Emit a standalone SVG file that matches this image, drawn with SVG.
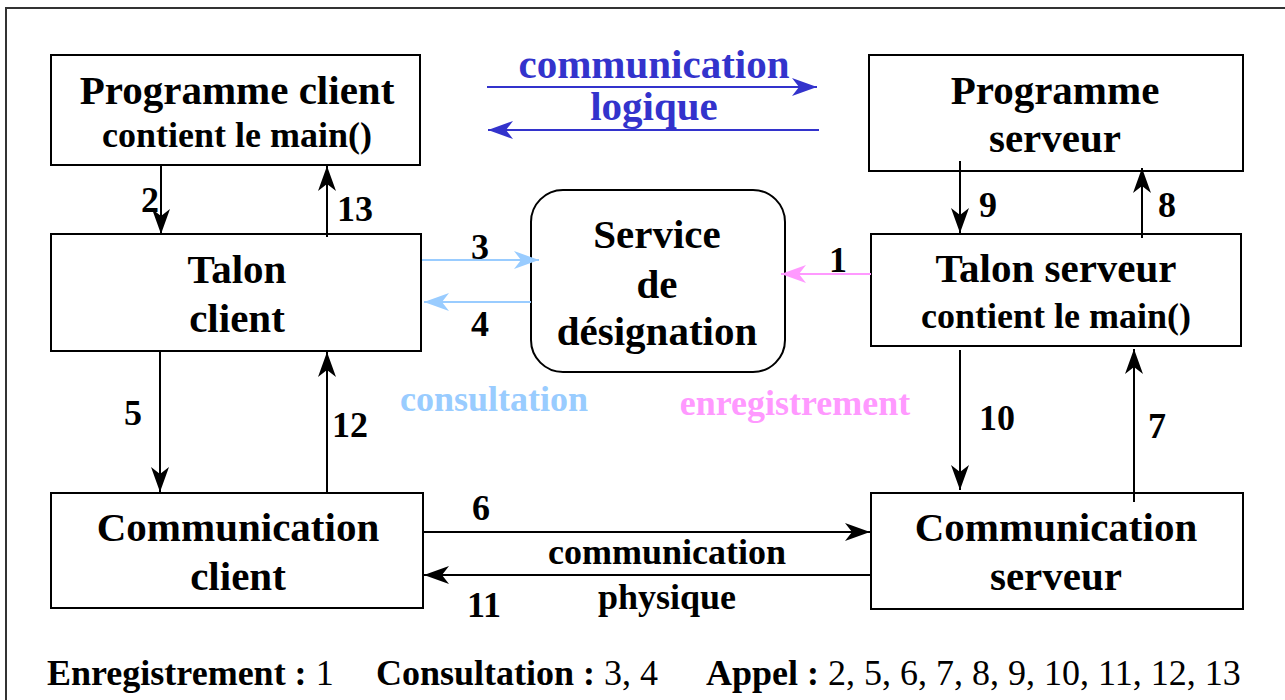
<svg xmlns="http://www.w3.org/2000/svg" width="1285" height="700" viewBox="0 0 1285 700">
  <style>
    .box { fill: #ffffff; stroke: #000000; stroke-width: 2; }
    .t { font-family: "Liberation Serif", "Times New Roman", serif; font-weight: bold; text-anchor: middle; fill: #000000; }
    .big { font-size: 41px; }
    .mid { font-size: 36px; }
    .num { font-size: 36px; }
    .blk { stroke: #000000; stroke-width: 2; fill: none; }
    .blue { stroke: #3333cc; stroke-width: 2; fill: none; }
    .lblue { stroke: #99ccff; stroke-width: 2; fill: none; }
    .pink { stroke: #ff99ff; stroke-width: 2; fill: none; }
    .legend { font-family: "Liberation Serif", "Times New Roman", serif; font-size: 36px; fill: #000000; }
  </style>
  <defs>
    <marker id="ah-black" markerUnits="userSpaceOnUse" markerWidth="30" markerHeight="24" viewBox="-26 -12 30 24" refX="0" refY="0" orient="auto">
      <path d="M0,0 L-25,-9 L-18,0 L-25,9 Z" fill="#000000"/>
    </marker>
    <marker id="ah-blue" markerUnits="userSpaceOnUse" markerWidth="30" markerHeight="24" viewBox="-26 -12 30 24" refX="0" refY="0" orient="auto">
      <path d="M0,0 L-25,-9 L-18,0 L-25,9 Z" fill="#3333cc"/>
    </marker>
    <marker id="ah-lblue" markerUnits="userSpaceOnUse" markerWidth="30" markerHeight="24" viewBox="-26 -12 30 24" refX="0" refY="0" orient="auto">
      <path d="M0,0 L-25,-9 L-18,0 L-25,9 Z" fill="#99ccff"/>
    </marker>
    <marker id="ah-pink" markerUnits="userSpaceOnUse" markerWidth="30" markerHeight="24" viewBox="-26 -12 30 24" refX="0" refY="0" orient="auto">
      <path d="M0,0 L-25,-9 L-18,0 L-25,9 Z" fill="#ff99ff"/>
    </marker>
  </defs>

  <rect x="0" y="0" width="1285" height="700" fill="#ffffff"/>
  <!-- frame -->
  <rect x="6" y="8" width="1300" height="720" fill="none" stroke="#333333" stroke-width="2"/>

  <g id="programme-client">
    <rect class="box" x="51" y="55" width="369" height="110"/>
    <text class="t big" x="237" y="104">Programme client</text>
    <text class="t mid" x="237" y="147">contient le main()</text>
  </g>

  <g id="programme-serveur">
    <rect class="box" x="869" y="55" width="374" height="116"/>
    <text class="t big" x="1055" y="104">Programme</text>
    <text class="t big" x="1055" y="152">serveur</text>
  </g>

  <g id="talon-client">
    <rect class="box" x="51" y="234" width="370" height="117"/>
    <text class="t big" x="237" y="283">Talon</text>
    <text class="t big" x="237" y="332">client</text>
  </g>

  <g id="talon-serveur">
    <rect class="box" x="871" y="234" width="370" height="112"/>
    <text class="t big" x="1056" y="282">Talon serveur</text>
    <text class="t mid" x="1056" y="328">contient le main()</text>
  </g>

  <g id="service-designation">
    <rect class="box" x="531" y="190" width="254" height="182" rx="32" ry="32"/>
    <text class="t big" x="657" y="248">Service</text>
    <text class="t big" x="657" y="298">de</text>
    <text class="t big" x="657" y="345">désignation</text>
  </g>

  <g id="communication-client">
    <rect class="box" x="51" y="493" width="372" height="115"/>
    <text class="t big" x="238" y="541">Communication</text>
    <text class="t big" x="238" y="590">client</text>
  </g>

  <g id="communication-serveur">
    <rect class="box" x="871" y="493" width="372" height="116"/>
    <text class="t big" x="1056" y="541">Communication</text>
    <text class="t big" x="1056" y="590">serveur</text>
  </g>

  <g id="connectors">
    <!-- logical communication -->
    <line class="blue" x1="487" y1="87" x2="817" y2="87" marker-end="url(#ah-blue)"/>
    <line class="blue" x1="819" y1="130" x2="488" y2="130" marker-end="url(#ah-blue)"/>
    <!-- client side -->
    <line class="blk" x1="161" y1="165" x2="161" y2="234" marker-end="url(#ah-black)"/>
    <line class="blk" x1="327" y1="237" x2="327" y2="166" marker-end="url(#ah-black)"/>
    <line class="blk" x1="160" y1="351" x2="160" y2="492" marker-end="url(#ah-black)"/>
    <line class="blk" x1="327" y1="493" x2="327" y2="352" marker-end="url(#ah-black)"/>
    <!-- naming service -->
    <line class="lblue" x1="422" y1="260" x2="539" y2="260" marker-end="url(#ah-lblue)"/>
    <line class="lblue" x1="531" y1="302" x2="424" y2="302" marker-end="url(#ah-lblue)"/>
    <line class="pink" x1="871" y1="274" x2="781" y2="274" marker-end="url(#ah-pink)"/>
    <!-- server side -->
    <line class="blk" x1="960" y1="161" x2="960" y2="233" marker-end="url(#ah-black)"/>
    <line class="blk" x1="1142" y1="238" x2="1142" y2="168" marker-end="url(#ah-black)"/>
    <line class="blk" x1="960" y1="350" x2="960" y2="490" marker-end="url(#ah-black)"/>
    <line class="blk" x1="1134" y1="502" x2="1134" y2="349" marker-end="url(#ah-black)"/>
    <!-- physical communication -->
    <line class="blk" x1="423" y1="532" x2="870" y2="532" marker-end="url(#ah-black)"/>
    <line class="blk" x1="871" y1="575" x2="424" y2="575" marker-end="url(#ah-black)"/>
  </g>

  <g id="labels">
    <text class="t big" x="654" y="78" fill="#3333cc" style="fill:#3333cc">communication</text>
    <text class="t big" x="654" y="120" style="fill:#3333cc">logique</text>
    <text class="t mid" x="494" y="411" style="fill:#99ccff">consultation</text>
    <text class="t mid" x="795" y="415" style="fill:#ff99ff">enregistrement</text>
    <text class="t mid" x="667" y="564">communication</text>
    <text class="t mid" x="667" y="609">physique</text>

    <text class="t num" x="150" y="212">2</text>
    <text class="t num" x="355" y="221">13</text>
    <text class="t num" x="480" y="259">3</text>
    <text class="t num" x="480" y="336">4</text>
    <text class="t num" x="838" y="272">1</text>
    <text class="t num" x="133" y="425">5</text>
    <text class="t num" x="350" y="437">12</text>
    <text class="t num" x="988" y="217">9</text>
    <text class="t num" x="1167" y="217">8</text>
    <text class="t num" x="997" y="430">10</text>
    <text class="t num" x="1157" y="438">7</text>
    <text class="t num" x="481" y="520">6</text>
    <text class="t num" x="484" y="617">11</text>
  </g>

  <g id="legend">
    <text class="legend" x="47" y="685"><tspan font-weight="bold">Enregistrement :</tspan> 1</text>
    <text class="legend" x="376" y="685"><tspan font-weight="bold">Consultation :</tspan> 3, 4</text>
    <text class="legend" x="706" y="685"><tspan font-weight="bold">Appel :</tspan> 2, 5, 6, 7, 8, 9, 10, 11, 12, 13</text>
  </g>
</svg>
